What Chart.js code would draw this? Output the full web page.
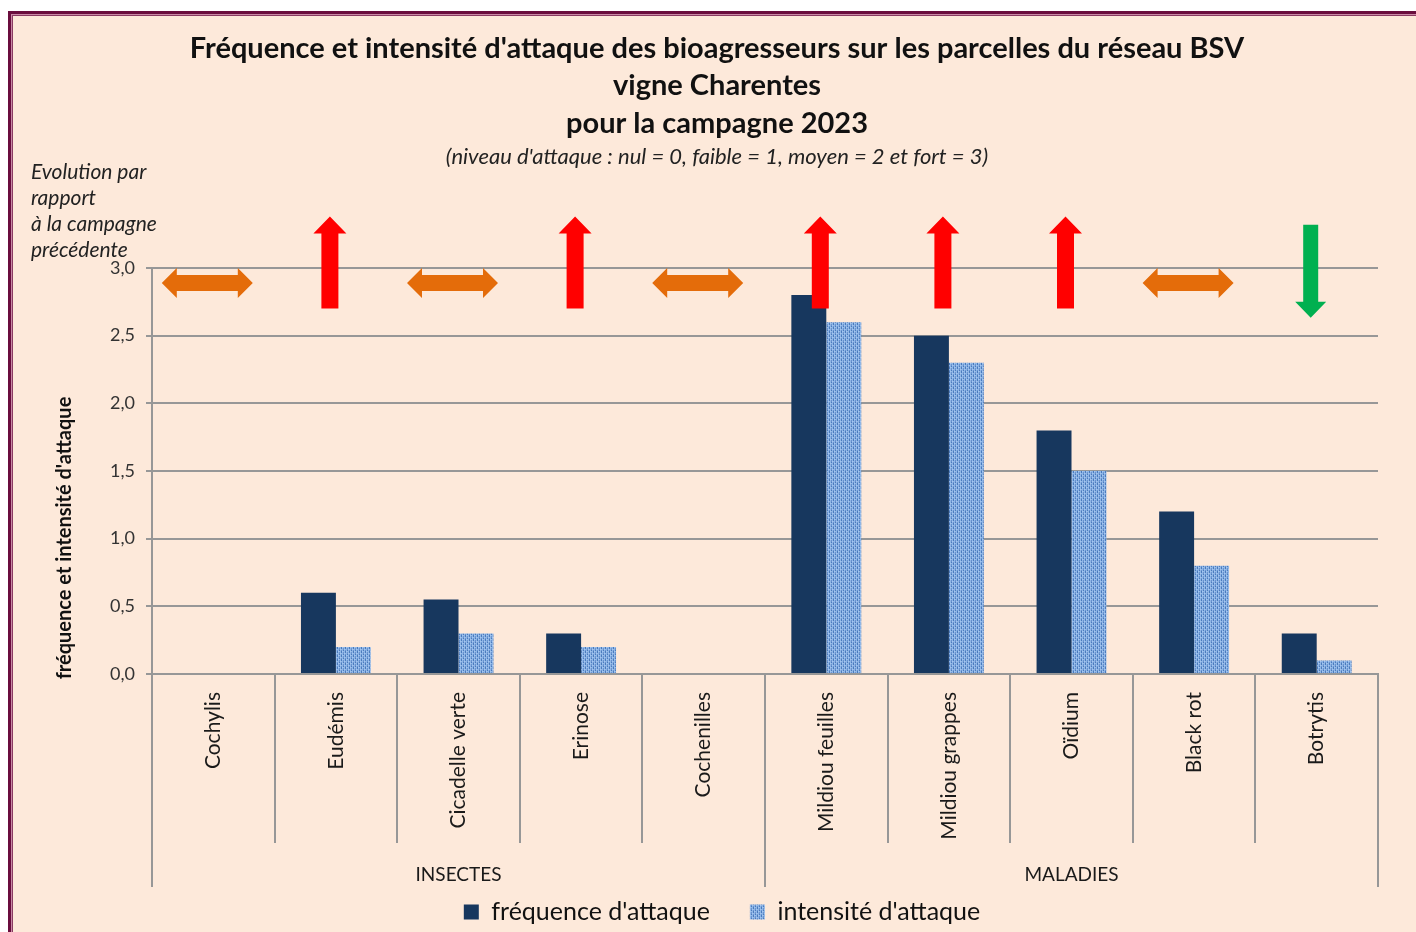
<!DOCTYPE html>
<html lang="fr">
<head>
<meta charset="utf-8">
<title>Fréquence et intensité d'attaque des bioagresseurs - BSV vigne Charentes 2023</title>
<script src="https://cdn.jsdelivr.net/npm/chart.js@4.4.1/dist/chart.umd.min.js"></script>
<style>
  html, body { margin: 0; padding: 0; background: #ffffff; }
  canvas { display: block; }
</style>
</head>
<body>
<canvas id="bsv-chart" width="1416" height="932"></canvas>
<script>
// Bioagresseurs suivis et niveaux moyens observés (0 = nul ... 3 = fort)
const categories = ['Cochylis', 'Eudémis', 'Cicadelle verte', 'Erinose', 'Cochenilles',
  'Mildiou feuilles', 'Mildiou grappes', 'Oïdium', 'Black rot', 'Botrytis'];
const frequence = [0, 0.6, 0.55, 0.3, 0, 2.8, 2.5, 1.8, 1.2, 0.3];
const intensite = [0, 0.2, 0.3, 0.2, 0, 2.6, 2.3, 1.5, 0.8, 0.1];
// évolution par rapport à la campagne précédente
const evolution = ['stable', 'hausse', 'stable', 'hausse', 'stable',
  'hausse', 'hausse', 'hausse', 'stable', 'baisse'];
const groupLabels = ['INSECTES', 'MALADIES'];
const groupSizes = [5, 5];
const yMax = 3;
const yStep = 0.5;

const titleLines = ["Fréquence et intensité d'attaque des bioagresseurs sur les parcelles du réseau BSV",
  'vigne Charentes', 'pour la campagne 2023'];
const subTitle = "(niveau d'attaque : nul = 0, faible = 1, moyen = 2 et fort = 3)";
const evolutionNote = ['Evolution par', 'rapport', 'à la campagne', 'précédente'];
const yTitle = "fréquence et intensité d'attaque";

const FONT = 'Lato, "Open Sans", sans-serif';
const GRID = '#979797';

// motif pointillé des barres d'intensité
function makeDotPattern() {
  const c = document.createElement('canvas');
  c.width = 4; c.height = 4;
  const g = c.getContext('2d');
  g.fillStyle = '#8fb6e6';
  g.fillRect(0, 0, 4, 4);
  g.fillStyle = '#4a7bbd';
  g.fillRect(1, 0, 1, 1);
  g.fillRect(3, 2, 1, 1);
  g.fillRect(1, 3, 1, 1);
  g.fillStyle = '#6892cf';
  g.fillRect(1, 2, 1, 1);
  g.fillRect(3, 0, 1, 1);
  g.fillRect(3, 1, 1, 1);
  g.fillStyle = '#a6c6ef';
  g.fillRect(0, 1, 1, 1);
  g.fillRect(2, 3, 1, 1);
  return document.getElementById('bsv-chart').getContext('2d').createPattern(c, 'repeat');
}

function arrowUp(ctx, cx, bottom, color) {
  const tip = bottom - 92;
  ctx.fillStyle = color;
  ctx.beginPath();
  ctx.moveTo(cx - 8.5, bottom);
  ctx.lineTo(cx - 8.5, tip + 17);
  ctx.lineTo(cx - 16.5, tip + 17);
  ctx.lineTo(cx, tip);
  ctx.lineTo(cx + 16.5, tip + 17);
  ctx.lineTo(cx + 8.5, tip + 17);
  ctx.lineTo(cx + 8.5, bottom);
  ctx.closePath();
  ctx.fill();
}

function arrowDown(ctx, cx, top, color) {
  const tip = top + 93;
  ctx.fillStyle = color;
  ctx.beginPath();
  ctx.moveTo(cx - 7.5, top);
  ctx.lineTo(cx - 7.5, tip - 16);
  ctx.lineTo(cx - 15.5, tip - 16);
  ctx.lineTo(cx, tip);
  ctx.lineTo(cx + 15.5, tip - 16);
  ctx.lineTo(cx + 7.5, tip - 16);
  ctx.lineTo(cx + 7.5, top);
  ctx.closePath();
  ctx.fill();
}

function arrowBoth(ctx, cx, cy, color) {
  const half = 45.5, head = 15, hh = 15, sh = 8;
  ctx.fillStyle = color;
  ctx.beginPath();
  ctx.moveTo(cx - half, cy);
  ctx.lineTo(cx - half + head, cy - hh);
  ctx.lineTo(cx - half + head, cy - sh);
  ctx.lineTo(cx + half - head, cy - sh);
  ctx.lineTo(cx + half - head, cy - hh);
  ctx.lineTo(cx + half, cy);
  ctx.lineTo(cx + half - head, cy + hh);
  ctx.lineTo(cx + half - head, cy + sh);
  ctx.lineTo(cx - half + head, cy + sh);
  ctx.lineTo(cx - half + head, cy + hh);
  ctx.closePath();
  ctx.fill();
}

const decorPlugin = {
  id: 'decor',
  beforeDraw(chart) {
    const ctx = chart.ctx;
    ctx.save();
    // fond et cadre
    ctx.fillStyle = '#fde9da';
    ctx.fillRect(10, 13, chart.width, chart.height);
    ctx.strokeStyle = '#6a0d3d';
    ctx.lineWidth = 3;
    ctx.strokeRect(9.5, 12.5, chart.width + 20, chart.height + 20);
    ctx.strokeStyle = '#c98aa6';
    ctx.lineWidth = 1;
    ctx.strokeRect(11.5, 14.5, chart.width + 20, chart.height + 20);
    ctx.strokeStyle = '#8a3a62';
    ctx.strokeRect(12.5, 15.5, chart.width + 20, chart.height + 20);

    // titres
    ctx.fillStyle = '#111';
    ctx.textAlign = 'center';
    ctx.textBaseline = 'middle';
    ctx.font = 'bold 29px ' + FONT;
    const tops = [49, 86, 124];
    titleLines.forEach((t, i) => ctx.fillText(t, 717, tops[i]));
    ctx.font = 'italic 22px ' + FONT;
    ctx.fillStyle = '#222';
    ctx.fillText(subTitle, 717, 157);

    // note d'évolution
    ctx.textAlign = 'left';
    ctx.font = 'italic 21px ' + FONT;
    evolutionNote.forEach((t, i) => ctx.fillText(t, 31, 172 + i * 26));

    // titre de l'axe vertical
    ctx.translate(65, 538);
    ctx.rotate(-Math.PI / 2);
    ctx.textAlign = 'center';
    ctx.font = 'bold 20px ' + FONT;
    ctx.fillStyle = '#111';
    ctx.fillText(yTitle, 0, 0);
    ctx.restore();
  },
  afterDatasetsDraw(chart) {
    const ctx = chart.ctx;
    const x = chart.scales.x;
    const y = chart.scales.y;
    const step = x.width / categories.length;
    ctx.save();

    // séparateurs des catégories et des groupes
    ctx.strokeStyle = GRID;
    ctx.lineWidth = 2;
    const groupEdges = [0];
    groupSizes.forEach(n => groupEdges.push(groupEdges[groupEdges.length - 1] + n));
    for (let k = 0; k <= categories.length; k++) {
      const px = Math.round(x.left + k * step);
      const end = x.top + (groupEdges.includes(k) ? 213 : 169);
      ctx.beginPath();
      ctx.moveTo(px, x.top);
      ctx.lineTo(px, end);
      ctx.stroke();
    }
    ctx.fillStyle = '#1a1a1a';
    ctx.font = '19px ' + FONT;
    ctx.textAlign = 'center';
    ctx.textBaseline = 'middle';
    groupLabels.forEach((g, i) => {
      const cx = x.left + (groupEdges[i] + groupEdges[i + 1]) / 2 * step;
      ctx.fillText(g, cx, x.top + 201);
    });

    // flèches d'évolution
    evolution.forEach((e, i) => {
      const cx = x.getPixelForValue(i) - 6;
      if (e === 'hausse') arrowUp(ctx, cx, y.getPixelForValue(2.7), '#ff0000');
      else if (e === 'baisse') arrowDown(ctx, cx, y.getPixelForValue(3.32), '#00b050');
      else arrowBoth(ctx, cx, y.getPixelForValue(2.89), '#e46c0a');
    });
    ctx.restore();
  }
};

const ctx = document.getElementById('bsv-chart').getContext('2d');
const chart = new Chart(ctx, {
  type: 'bar',
  data: {
    labels: categories,
    datasets: [
      {
        label: "fréquence d'attaque",
        data: frequence,
        backgroundColor: '#17375e',
        borderWidth: 0
      },
      {
        label: "intensité d'attaque",
        data: intensite,
        backgroundColor: makeDotPattern(),
        borderWidth: 0
      }
    ]
  },
  options: {
    responsive: false,
    animation: false,
    layout: { padding: { top: 268, left: 66, right: 38, bottom: -2.5 } },
    datasets: { bar: { categoryPercentage: 0.57, barPercentage: 1 } },
    plugins: {
      legend: {
        display: true,
        position: 'bottom',
        labels: {
          boxWidth: 15,
          boxHeight: 15,
          padding: 40,
          color: '#111',
          font: { family: FONT, size: 25 }
        }
      },
      tooltip: { enabled: false }
    },
    scales: {
      x: {
        grid: { display: false },
        border: { display: true, color: GRID, width: 2 },
        ticks: {
          minRotation: 90,
          maxRotation: 90,
          padding: 10,
          color: '#1a1a1a',
          font: { family: FONT, size: 21 }
        },
        afterFit(scale) { scale.height = 185.5; }
      },
      y: {
        min: 0,
        max: yMax,
        grid: { color: GRID, lineWidth: 2, tickLength: 6 },
        border: { display: true, color: GRID, width: 2 },
        ticks: {
          stepSize: yStep,
          padding: 11,
          color: '#333',
          font: { family: FONT, size: 18 },
          callback: v => v.toFixed(1).replace('.', ',')
        },
        afterFit(scale) { scale.width = 86; }
      }
    }
  },
  plugins: [decorPlugin]
});
</script>
</body>
</html>
